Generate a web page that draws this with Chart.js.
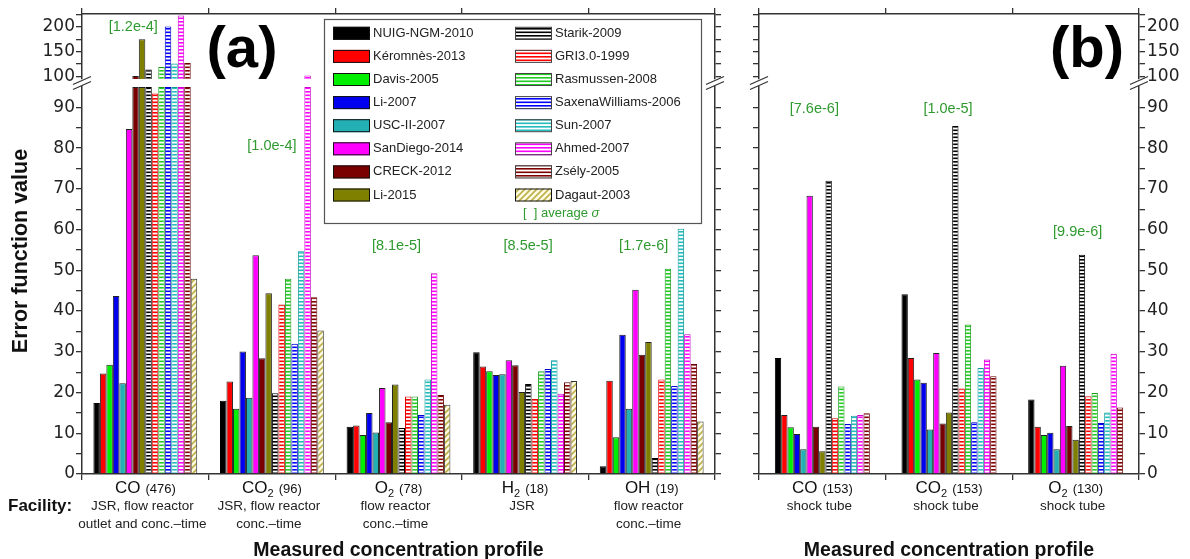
<!DOCTYPE html>
<html>
<head>
<meta charset="utf-8">
<script src="https://cdn.jsdelivr.net/npm/chart.js@4.4.1/dist/chart.umd.min.js"></script>
<style>
  body { margin: 0; background: #fff; }
  #wrap { position: relative; width: 1190px; height: 559px; }
  canvas { position: absolute; top: 0; }
</style>
</head>
<body>
<div id="wrap">
  <canvas id="chartA" width="737" height="559" style="left:0"></canvas>
  <canvas id="chartB" width="453" height="559" style="left:737px"></canvas>
</div>
<script>
// mechanisms, in bar order
const modelNames = [
  "NUIG-NGM-2010", "Kéromnès-2013", "Davis-2005", "Li-2007", "USC-II-2007",
  "SanDiego-2014", "CRECK-2012", "Li-2015", "Starik-2009", "GRI3.0-1999",
  "Rasmussen-2008", "SaxenaWilliams-2006", "Sun-2007", "Ahmed-2007",
  "Zsély-2005", "Dagaut-2003"
];

// (a) JSR / flow reactor profiles
const catsA = ["CO", "CO2", "O2", "H2", "OH"];
const pointsA = [476, 96, 78, 18, 19];
const facilityA = [
  ["JSR, flow reactor", "outlet and conc.–time"],
  ["JSR, flow reactor", "conc.–time"],
  ["flow reactor", "conc.–time"],
  ["JSR"],
  ["flow reactor", "conc.–time"]
];
const sigmaA = ["[1.2e-4]", "[1.0e-4]", "[8.1e-5]", "[8.5e-5]", "[1.7e-6]"];
const sigmaAtA = [200, 80.5, 56, 56, 56];

// (b) shock tube profiles
const catsB = ["CO", "CO2", "O2"];
const pointsB = [153, 153, 130];
const facilityB = [["shock tube"], ["shock tube"], ["shock tube"]];
const sigmaB = ["[7.6e-6]", "[1.0e-5]", "[9.9e-6]"];
const sigmaAtB = [89.5, 89.5, 59.5];

// error function values, one array per mechanism
const nuigA      = [17.4, 18.0, 11.6, 29.9, 1.9];
const keromnesA  = [24.7, 22.7, 11.9, 26.4, 22.9];
const davisA     = [26.8, 16.0, 9.6, 25.2, 9.0];
const li2007A    = [43.7, 30.1, 15.0, 24.3, 34.2];
const uscA       = [22.3, 18.7, 10.2, 24.5, 16.0];
const sandiegoA  = [84.7, 53.7, 21.1, 27.9, 45.2];
const creckA     = [101, 28.4, 12.7, 26.7, 29.3];
const li2015A    = [175, 44.4, 22.0, 20.1, 32.4];
const starikA    = [114, 19.8, 11.3, 22.1, 3.9];
const griA       = [93.4, 41.6, 19.0, 18.4, 23.2];
const rasmussenA = [119, 47.9, 19.0, 25.2, 50.4];
const saxenaA    = [201, 32.0, 14.5, 25.8, 21.6];
const sunA       = [126, 54.7, 23.2, 27.9, 60.2];
const ahmedA     = [223, 102, 49.3, 19.7, 34.3];
const zselyA     = [127, 43.4, 19.4, 22.5, 27.0];
const dagautA    = [47.9, 35.2, 17.0, 22.8, 12.9];

const nuigB      = [28.5, 44.1, 18.3];
const keromnesB  = [14.5, 28.5, 11.6];
const davisB     = [11.5, 23.2, 9.6];
const li2007B    = [9.8, 22.4, 10.1];
const uscB       = [6.1, 10.9, 6.1];
const sandiegoB  = [68.3, 29.7, 26.6];
const creckB     = [11.6, 12.4, 11.8];
const li2015B    = [5.6, 15.1, 8.4];
const starikB    = [72.0, 85.4, 53.8];
const griB       = [13.7, 21.0, 19.1];
const rasmussenB = [21.5, 36.7, 19.9];
const saxenaB    = [12.3, 12.7, 12.5];
const sunB       = [14.3, 26.0, 15.1];
const ahmedB     = [14.5, 28.1, 29.5];
const zselyB     = [14.9, 24.0, 16.3];

const seriesA = [nuigA, keromnesA, davisA, li2007A, uscA, sandiegoA, creckA, li2015A,
  starikA, griA, rasmussenA, saxenaA, sunA, ahmedA, zselyA, dagautA];
const seriesB = [nuigB, keromnesB, davisB, li2007B, uscB, sandiegoB, creckB, li2015B,
  starikB, griB, rasmussenB, saxenaB, sunB, ahmedB, zselyB];

// broken y axis: 0-95 below the break, 95-226 above
const lowerTicks = [0, 5, 10, 15, 20, 25, 30, 35, 40, 45, 50, 55, 60, 65, 70, 75, 80, 85, 90];
const upperTicks = [100, 125, 150, 175, 200, 225];
const BREAK_AT = 95;
const TOP_MAX = 226;

const AX = "#333";
const GREEN = "#2f9a2f";
const SANS = "'Liberation Sans', Arial, sans-serif";

// small horizontal nudges for the sigma labels, px
const sigmaNudgeA = [-12, 0, -2, 3, -8];
const sigmaNudgeB = [-8, -1, 2];

// fill patterns
function stripes(color) {
  const c = document.createElement("canvas");
  c.width = 4; c.height = 7;
  const g = c.getContext("2d");
  g.fillStyle = "#fff";
  g.fillRect(0, 0, 4, 7);
  g.fillStyle = color;
  g.fillRect(0, 0, 4, 1.6);
  g.fillRect(0, 3.5, 4, 1.6);
  return g.createPattern(c, "repeat");
}
function diagonal() {
  const c = document.createElement("canvas");
  c.width = 6; c.height = 6;
  const g = c.getContext("2d");
  g.fillStyle = "#fffbe3";
  g.fillRect(0, 0, 6, 6);
  g.strokeStyle = "#bdb04a";
  g.lineWidth = 1.6;
  g.beginPath();
  g.moveTo(-1, 7); g.lineTo(7, -1);
  g.moveTo(-4, 4); g.lineTo(4, -4);
  g.moveTo(2, 10); g.lineTo(10, 2);
  g.stroke();
  return g.createPattern(c, "repeat");
}

const styles = [
  { fill: "#000000", border: "#000" },
  { fill: "#ff0000", border: "#222" },
  { fill: "#00ee00", border: "#222" },
  { fill: "#0000ee", border: "#222" },
  { fill: "#22b0b4", border: "#222" },
  { fill: "#ff00ff", border: "#222" },
  { fill: "#7a0000", border: "#222" },
  { fill: "#808000", border: "#222" },
  { fill: stripes("#000"), border: "#000" },
  { fill: stripes("#ff0000"), border: "#d00" },
  { fill: stripes("#22cc22"), border: "#1a9a1a" },
  { fill: stripes("#0000ff"), border: "#0000cc" },
  { fill: stripes("#22bcbc"), border: "#199" },
  { fill: stripes("#ff00ff"), border: "#c0c" },
  { fill: stripes("#800000"), border: "#600" },
  { fill: diagonal(), border: "#333" }
];

// every mechanism gets a lower piece and, above the break, a floating upper piece
function buildDatasets(series, catPct) {
  const out = [];
  series.forEach((vals, i) => {
    const common = {
      label: modelNames[i],
      stack: modelNames[i],
      backgroundColor: styles[i].fill,
      borderColor: styles[i].border,
      borderWidth: 1,
      categoryPercentage: catPct,
      barPercentage: 1
    };
    out.push({ ...common, yAxisID: "yLo", data: vals.map(v => Math.min(v, BREAK_AT)) });
    out.push({ ...common, yAxisID: "yHi", data: vals.map(v => v > BREAK_AT ? [BREAK_AT, v] : null) });
  });
  return out;
}

function yAxis(side, part, showLabels, width) {
  const lo = part === "lo", gap = part === "gap";
  const weights = side === "left" ? { hi: 3, gap: 2, lo: 1 } : { hi: 1, gap: 2, lo: 3 };
  const cfg = {
    type: "linear",
    axis: "y",
    position: side,
    stack: side,
    stackWeight: lo ? 387 : gap ? 8 : 65,
    weight: weights[part],
    min: lo ? 0 : gap ? 0 : BREAK_AT,
    max: lo ? BREAK_AT : gap ? 1 : TOP_MAX,
    stacked: false,
    afterFit: s => { s.width = width; }
  };
  if (gap) {
    cfg.grid = { display: false };
    cfg.border = { display: false };
    cfg.ticks = { display: false };
    return cfg;
  }
  const list = lo ? lowerTicks : upperTicks;
  cfg.afterBuildTicks = s => { s.ticks = list.map(v => ({ value: v })); };
  cfg.grid = { drawOnChartArea: false, tickLength: 6, color: AX, lineWidth: 1.3 };
  cfg.border = { display: true, color: AX, width: 1.5 };
  cfg.ticks = {
    display: showLabels,
    autoSkip: false,
    padding: side === "left" ? 1 : 2,
    color: "#222",
    font: { family: "'DejaVu Sans', sans-serif", size: 17 },
    callback: v => (lo ? v % 10 === 0 : v % 50 === 0) ? v : ""
  };
  return cfg;
}

function xAxes(cats) {
  const grid = { offset: true, drawOnChartArea: false, tickLength: 6, color: AX, lineWidth: 1.3 };
  return {
    x: {
      type: "category", position: "bottom", labels: cats, offset: true, grid,
      border: { color: AX, width: 1.5 }, ticks: { display: false },
      afterFit: s => { s.height = 85; }
    },
    xTop: {
      type: "category", position: "top", labels: cats, offset: true, grid,
      border: { color: AX, width: 1.5 }, ticks: { display: false },
      afterFit: s => { s.height = 14; }
    }
  };
}

function valueY(chart, v) {
  return v > BREAK_AT ? chart.scales.yHi.getPixelForValue(v) : chart.scales.yLo.getPixelForValue(v);
}

function drawBreaks(chart) {
  const { ctx } = chart;
  const g = chart.scales.yGap;
  const cy = (g.top + g.bottom) / 2;
  ctx.save();
  ctx.strokeStyle = AX;
  ctx.lineWidth = 1.3;
  [chart.chartArea.left, chart.chartArea.right].forEach(x => {
    [-2.5, 2.5].forEach(d => {
      ctx.beginPath();
      ctx.moveTo(x - 9, cy + 4 + d);
      ctx.lineTo(x + 9, cy - 4 + d);
      ctx.stroke();
    });
  });
  ctx.restore();
}

function drawCategories(chart, cats, counts, facility, sigma, sigmaAt, nudge) {
  const { ctx } = chart;
  const xs = chart.scales.x;
  const base = chart.chartArea.bottom;
  ctx.save();
  ctx.fillStyle = "#111";
  ctx.textBaseline = "alphabetic";
  cats.forEach((name, i) => {
    const cx = xs.getPixelForValue(i);
    const [, main, sub] = name.match(/^(\D+)(\d*)$/);
    const count = "(" + counts[i] + ")";
    ctx.font = "17px " + SANS;
    const wMain = ctx.measureText(main).width;
    ctx.font = "11px " + SANS;
    const wSub = sub ? ctx.measureText(sub).width : 0;
    ctx.font = "13px " + SANS;
    const wCount = ctx.measureText(count).width;
    const gap = 5;
    let x = cx - (wMain + wSub + gap + wCount) / 2;
    const y = base + 19;
    ctx.textAlign = "left";
    ctx.font = "17px " + SANS;
    ctx.fillText(main, x, y);
    x += wMain;
    if (sub) {
      ctx.font = "11px " + SANS;
      ctx.fillText(sub, x, y + 4);
      x += wSub;
    }
    ctx.font = "13px " + SANS;
    ctx.fillText(count, x + gap, y);

    ctx.textAlign = "center";
    ctx.font = "13.5px " + SANS;
    ctx.fillStyle = "#222";
    facility[i].forEach((line, k) => ctx.fillText(line, cx - 3, base + 36 + k * 18));
    ctx.fillStyle = "#111";

    // average sigma above the group
    ctx.font = "14.5px " + SANS;
    ctx.fillStyle = GREEN;
    ctx.textBaseline = "middle";
    ctx.fillText(sigma[i], cx + nudge[i], valueY(chart, sigmaAt[i]));
    ctx.textBaseline = "alphabetic";
    ctx.fillStyle = "#111";
  });

  ctx.font = "bold 19.5px " + SANS;
  ctx.textAlign = "center";
  ctx.fillText("Measured concentration profile", (chart.chartArea.left + chart.chartArea.right) / 2, base + 82);
  ctx.restore();
}

function drawPanelTag(chart, text, cx) {
  const { ctx } = chart;
  ctx.save();
  ctx.font = "bold 58px " + SANS;
  ctx.fillStyle = "#000";
  ctx.textAlign = "center";
  ctx.textBaseline = "middle";
  ctx.fillText(text, cx, chart.chartArea.top + 37);
  ctx.restore();
}

function drawSwatch(ctx, i, x, y) {
  ctx.fillStyle = styles[i].fill;
  ctx.fillRect(x, y, 37, 13);
  ctx.strokeStyle = i >= 8 && i < 15 ? "#444" : "#111";
  ctx.lineWidth = 1;
  ctx.strokeRect(x + 0.5, y + 0.5, 36, 12);
}

function drawLegend(chart) {
  const { ctx } = chart;
  const bx = 324, by = 19, bw = 377, bh = 204;
  ctx.save();
  ctx.fillStyle = "#fff";
  ctx.fillRect(bx, by, bw, bh);
  ctx.strokeStyle = "#555";
  ctx.lineWidth = 1.2;
  ctx.strokeRect(bx + 0.5, by + 0.5, bw, bh);
  ctx.font = "13px " + SANS;
  ctx.textBaseline = "middle";
  ctx.textAlign = "left";
  modelNames.forEach((name, i) => {
    const col = Math.floor(i / 8), row = i % 8;
    const sx = col === 0 ? 333 : 515;
    const cy = 33.3 + row * 23.1;
    drawSwatch(ctx, i, sx, cy - 6.5);
    ctx.fillStyle = "#222";
    ctx.fillText(name, sx + 40, cy);
  });
  ctx.fillStyle = GREEN;
  ctx.fillText("[  ]", 523, 213);
  ctx.fillText("average ", 541, 213);
  const w = ctx.measureText("average ").width;
  ctx.font = "italic 13px " + SANS;
  ctx.fillText("σ", 541 + w, 213);
  ctx.restore();
}

const decorA = {
  id: "decorA",
  afterDraw(chart) {
    const { ctx } = chart;
    drawBreaks(chart);
    drawCategories(chart, catsA, pointsA, facilityA, sigmaA, sigmaAtA, sigmaNudgeA);
    drawPanelTag(chart, "(a)", chart.chartArea.left + 160);
    drawLegend(chart);
    ctx.save();
    ctx.fillStyle = "#111";
    ctx.font = "bold 17px " + SANS;
    ctx.textAlign = "left";
    ctx.fillText("Facility:", 8, chart.chartArea.bottom + 37);
    ctx.translate(21, 251);
    ctx.rotate(-Math.PI / 2);
    ctx.textAlign = "center";
    ctx.textBaseline = "middle";
    ctx.font = "bold 21.5px " + SANS;
    ctx.fillText("Error function value", 0, 0);
    ctx.restore();
  }
};

const decorB = {
  id: "decorB",
  afterDraw(chart) {
    drawBreaks(chart);
    drawCategories(chart, catsB, pointsB, facilityB, sigmaB, sigmaAtB, sigmaNudgeB);
    drawPanelTag(chart, "(b)", chart.chartArea.right - 52);
  }
};

function makeChart(id, cats, series, catPct, leftLabels, leftW, rightW, decor) {
  return new Chart(document.getElementById(id), {
    type: "bar",
    data: { labels: cats, datasets: buildDatasets(series, catPct) },
    options: {
      responsive: false,
      animation: false,
      devicePixelRatio: 1,
      layout: { padding: 0 },
      plugins: { legend: { display: false }, tooltip: { enabled: false } },
      scales: {
        ...xAxes(cats),
        yLo: yAxis("left", "lo", leftLabels, leftW),
        yGap: yAxis("left", "gap", false, leftW),
        yHi: yAxis("left", "hi", leftLabels, leftW),
        yRLo: yAxis("right", "lo", !leftLabels, rightW),
        yRGap: yAxis("right", "gap", false, rightW),
        yRHi: yAxis("right", "hi", !leftLabels, rightW)
      }
    },
    plugins: [decor]
  });
}

makeChart("chartA", catsA, seriesA, 0.82, true, 82, 22, decorA);
makeChart("chartB", catsB, seriesB, 0.75, false, 22, 51, decorB);
</script>
</body>
</html>
